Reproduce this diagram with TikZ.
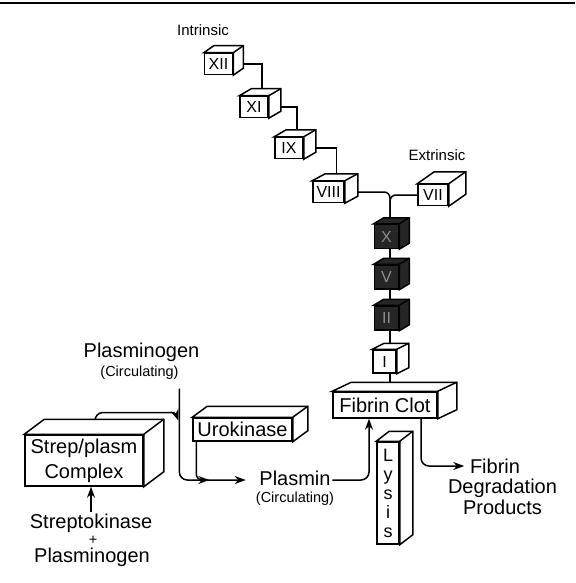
\documentclass[tikz,border=0pt]{standalone}
\usepackage{fontspec}
\setmainfont{Liberation Sans}
\usetikzlibrary{arrows.meta, positioning, calc, backgrounds}

% top and right faces of a box node: name, dx, dy
\newcommand{\boxside}[4][white]{%
  \draw[fill=#1] (#2.north west) -- ++(#3,#4) -- ($(#2.north east)+(#3,#4)$)
     -- ($(#2.south east)+(#3,#4)$) -- (#2.south east) -- (#2.north east) -- cycle;
  \draw (#2.north east) -- ++(#3,#4);}

\begin{document}
\begin{tikzpicture}[x=1pt, y=-1pt, line width=1.5pt, >={Stealth[length=11pt,width=8pt]},
    lbl/.style={font=\fontsize{20}{25}\selectfont, inner sep=1pt},
    small/.style={font=\fontsize{14.5}{16}\selectfont, inner sep=0pt},
    cube/.style={draw, fill=white, font=\fontsize{16}{16}\selectfont, minimum width=28pt, minimum height=21pt, inner sep=0pt},
    darkcube/.style={cube, fill=black!85, text=black!45, minimum width=24pt, minimum height=24pt},
    slab/.style={draw, fill=white, align=center, inner sep=0pt, font=\fontsize{20}{25}\selectfont}]
    \useasboundingbox (0,0) rectangle (575,583);
    \draw[line width=2.5pt] (0,3) -- (575,3);

    % cascade
    \node[lbl, font=\fontsize{15}{15}\selectfont] (intr) at (203,30) {Intrinsic};
    \node[lbl, font=\fontsize{15}{15}\selectfont] (extr) at (437,155) {Extrinsic};
    \node[cube] (xii) at (218.5,64) {XII};
    \node[cube] (xi) at (254,107) {XI};
    \node[cube] (ix) at (289,148) {IX};
    \node[cube, minimum width=31pt] (viii) at (328.5,192) {VIII};
    \node[cube, minimum width=30pt] (vii) at (433,195) {VII};
    \node[darkcube] (x) at (386.5,236.5) {X};
    \node[darkcube] (v) at (386.5,277) {V};
    \node[darkcube] (ii) at (386.5,318) {II};
    \node[cube, minimum width=23pt, minimum height=23pt] (i) at (384.5,361.5) {I};
    \coordinate (spine) at (390,192);
    \boxside{xii}{10}{-7}
    \boxside{xi}{12}{-7}
    \boxside{ix}{12}{-7}
    \boxside{viii}{13}{-7}
    \boxside{vii}{17}{-12}
    \boxside[black!85]{x}{10}{-6}
    \boxside[black!85]{v}{10}{-6}
    \boxside[black!85]{ii}{10}{-6}
    \boxside{i}{12}{-6}

    % fibrinolysis
    \node[slab, minimum width=104pt, minimum height=26pt] (clot) at (385,405) {Fibrin Clot};
    \node[slab, minimum width=22pt, minimum height=102pt, font=\fontsize{18}{19}\selectfont] (lysis) at (388,493) {L\\y\\s\\i\\s};
    \node[slab, minimum width=99pt, minimum height=23pt] (uro) at (242.5,429.5) {Urokinase};
    \node[slab, minimum width=118pt, minimum height=51pt] (cplx) at (84,460.5) {Strep/plasm\\Complex};
    \boxside{clot}{19}{-9}
    \boxside{lysis}{13}{-10}
    \boxside{uro}{15}{-11}
    \boxside{cplx}{20}{-15}

    \node[lbl] (plg) at (141.5,352) {Plasminogen};
    \node[small] (plgcirc) at (139.5,373) {(Circulating)};
    \node[lbl] (plasmin) at (295,478) {Plasmin};
    \node[small] (plcirc) at (295,499) {(Circulating)};
    \node[lbl] (strepto) at (91,523) {Streptokinase};
    \node[small] (plus) at (93,540) {+};
    \node[lbl] (plg2) at (92,557) {Plasminogen};
    \node[lbl] (fibw) at (495,466) {Fibrin};
    \node[lbl, align=center, font=\fontsize{20}{21}\selectfont] (fdp) at (502.5,497) {Degradation\\Products};

    \begin{pgfonlayer}{background}
      \begin{scope}[line width=1.5pt]
        \draw (xii.east) -| ([xshift=8]xi.center);
        \draw (xi.east) -| ([xshift=8]ix.center);
        \draw (ix.east) -| ([xshift=8]viii.center);
        \draw[rounded corners=6pt] (viii.east) -| (spine |- x.center);
        \draw[rounded corners=6pt] (vii.west) -| (spine |- x.center);
        \draw[line width=2.6pt] (spine |- x.center) -- (spine |- v.center) -- (spine |- ii.center) -- (spine |- i.center);
        \draw (spine |- i.center) -- (spine |- clot.center);

        \draw[->, rounded corners=8pt] ([yshift=-8]plgcirc.south east) |- ([xshift=-12,yshift=-2]plasmin.west);
        \draw[->, rounded corners=8pt] ([xshift=11]cplx.north) |- ([xshift=-14,yshift=-32]plgcirc.south east)
            to[out=0, in=110] ([xshift=-1,yshift=-40]plgcirc.south east);
        \draw[->, rounded corners=6pt] ([xshift=4]uro.south west) |- ([xshift=17,yshift=-2]uro.south west |- plasmin.west);
        \draw[->] (strepto.north) -- (strepto.north |- cplx.south);
        \draw[->, rounded corners=8pt] ([yshift=-2]plasmin.east) -| ([xshift=-16]clot.south);
        \draw[->, rounded corners=8pt, shorten >=4pt] ([xshift=36]clot.south) |- (fibw.west);
      \end{scope}
    \end{pgfonlayer}
\end{tikzpicture}
\end{document}
